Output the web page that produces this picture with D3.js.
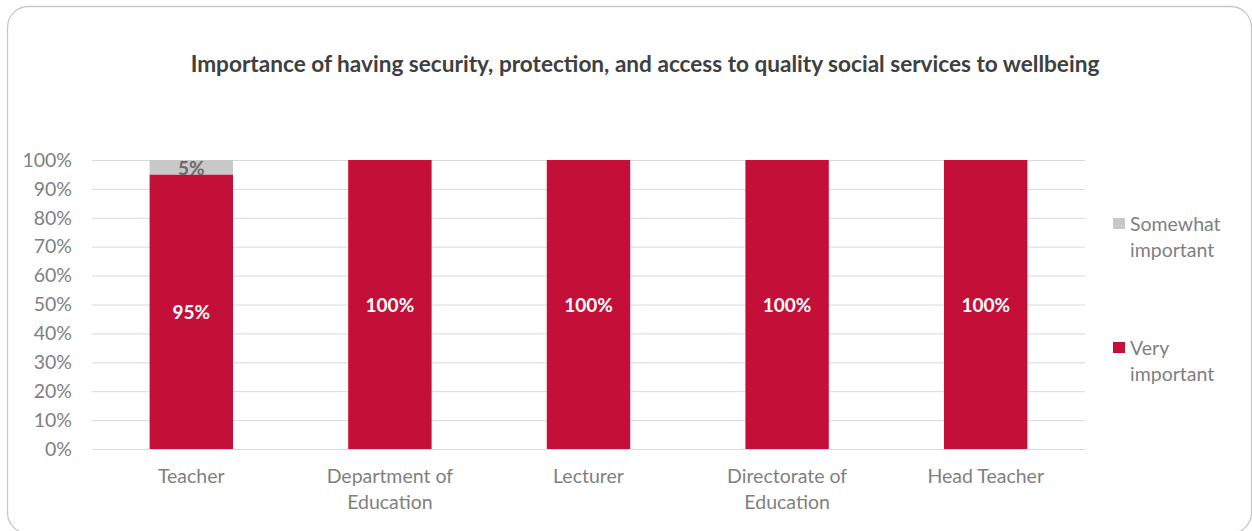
<!DOCTYPE html>
<html><head><meta charset="utf-8">
<script src="https://cdn.jsdelivr.net/npm/d3@7"></script>
<style>html,body{margin:0;padding:0;background:#fff;}svg{display:block;}</style>
</head><body>
<svg id="c" width="1252" height="531"></svg>
<script>
const categories = [["Teacher"], ["Department of","Education"], ["Lecturer"], ["Directorate of","Education"], ["Head Teacher"]];
const categoryNames = ["Teacher","Department of Education","Lecturer","Directorate of Education","Head Teacher"];
const veryImportant = [95, 100, 100, 100, 100];
const somewhatImportant = [5, 0, 0, 0, 0];
const yTicks = [0,10,20,30,40,50,60,70,80,90,100];
const seriesNames = ["Somewhat important","Very important"];
const colors = {very:"#C41039", somewhat:"#C8C8C8"};

const svg = d3.select("#c");
const font = "Lato, sans-serif";
const fs = 19.5;

svg.append("rect").attr("x",7.5).attr("y",6.5).attr("width",1244).attr("height",527)
  .attr("rx",21).attr("fill","#fff").attr("stroke","#c8c8c8").attr("stroke-width",1.3);

svg.append("text").attr("x",645).attr("y",72).attr("text-anchor","middle")
  .attr("font-family",font).attr("font-weight","bold").attr("font-size",22.6).attr("fill","#404040")
  .text("Importance of having security, protection, and access to quality social services to wellbeing");

const x = d3.scaleBand().domain(categoryNames).range([92,1085]).paddingInner(0.58).paddingOuter(0.29);
const y = d3.scaleLinear().domain([0,100]).range([449,160]);

svg.append("g").selectAll("line").data(yTicks).join("line")
  .attr("x1",92).attr("x2",1085).attr("y1",d=>y(d)+0.5).attr("y2",d=>y(d)+0.5)
  .attr("stroke","#d9d9d9").attr("stroke-width",1);

const yAxis = d3.axisLeft(y).tickValues(yTicks).tickFormat(d=>d+"%").tickSize(0).tickPadding(0);
const ya = svg.append("g").attr("transform","translate(72,0)").call(yAxis);
ya.select(".domain").remove();
ya.selectAll("text").attr("font-family",font).attr("font-size",fs).attr("fill","#7f7f7f");

const data = categoryNames.map((c,i)=>({c, v:veryImportant[i], s:somewhatImportant[i], lines:categories[i]}));

svg.append("g").selectAll("rect").data(data).join("rect")
  .attr("x",d=>x(d.c)).attr("width",x.bandwidth())
  .attr("y",d=>y(d.v)).attr("height",d=>y(0)-y(d.v)).attr("fill",colors.very);
svg.append("g").selectAll("rect").data(data.filter(d=>d.s>0)).join("rect")
  .attr("x",d=>x(d.c)).attr("width",x.bandwidth())
  .attr("y",d=>y(d.v+d.s)).attr("height",d=>y(d.v)-y(d.v+d.s)).attr("fill",colors.somewhat);

svg.append("line").attr("x1",92).attr("x2",1085).attr("y1",y(0)+0.5).attr("y2",y(0)+0.5).attr("stroke","#d9d9d9");

svg.append("g").selectAll("text").data(data).join("text")
  .attr("x",d=>x(d.c)+x.bandwidth()/2).attr("y",d=>y(d.v/2)+7)
  .attr("text-anchor","middle").attr("font-family",font).attr("font-weight","bold").attr("font-size",19).attr("fill","#fff")
  .text(d=>d.v+"%");
svg.append("g").selectAll("text").data(data.filter(d=>d.s>0)).join("text")
  .attr("x",d=>x(d.c)+x.bandwidth()/2).attr("y",d=>y(d.v+d.s/2)+7.5)
  .attr("text-anchor","middle").attr("font-family",font).attr("font-weight","bold").attr("font-size",19).attr("fill","#6b6b6b")
  .text(d=>d.s+"%");

const cl = svg.append("g").selectAll("text").data(data).join("text")
  .attr("x",d=>x(d.c)+x.bandwidth()/2).attr("y",483)
  .attr("text-anchor","middle").attr("font-family",font).attr("font-size",fs).attr("fill","#7f7f7f");
cl.each(function(d){
  d3.select(this).selectAll("tspan").data(d.lines).join("tspan")
    .attr("x",x(d.c)+x.bandwidth()/2).attr("dy",(l,i)=>i?25.5:0).text(l=>l);
});

const leg = [{n:["Somewhat","important"], c:colors.somewhat, y:218},{n:["Very","important"], c:colors.very, y:342}];
const lg = svg.append("g").selectAll("g").data(leg).join("g");
lg.append("rect").attr("x",1113).attr("y",d=>d.y).attr("width",12).attr("height",11).attr("fill",d=>d.c);
lg.append("text").attr("font-family",font).attr("font-size",fs).attr("fill","#7f7f7f")
  .each(function(d){
    d3.select(this).selectAll("tspan").data(d.n).join("tspan")
      .attr("x",1130).attr("y",(l,i)=>d.y+13+i*25.5).text(l=>l);
  });
</script>
</body></html>
